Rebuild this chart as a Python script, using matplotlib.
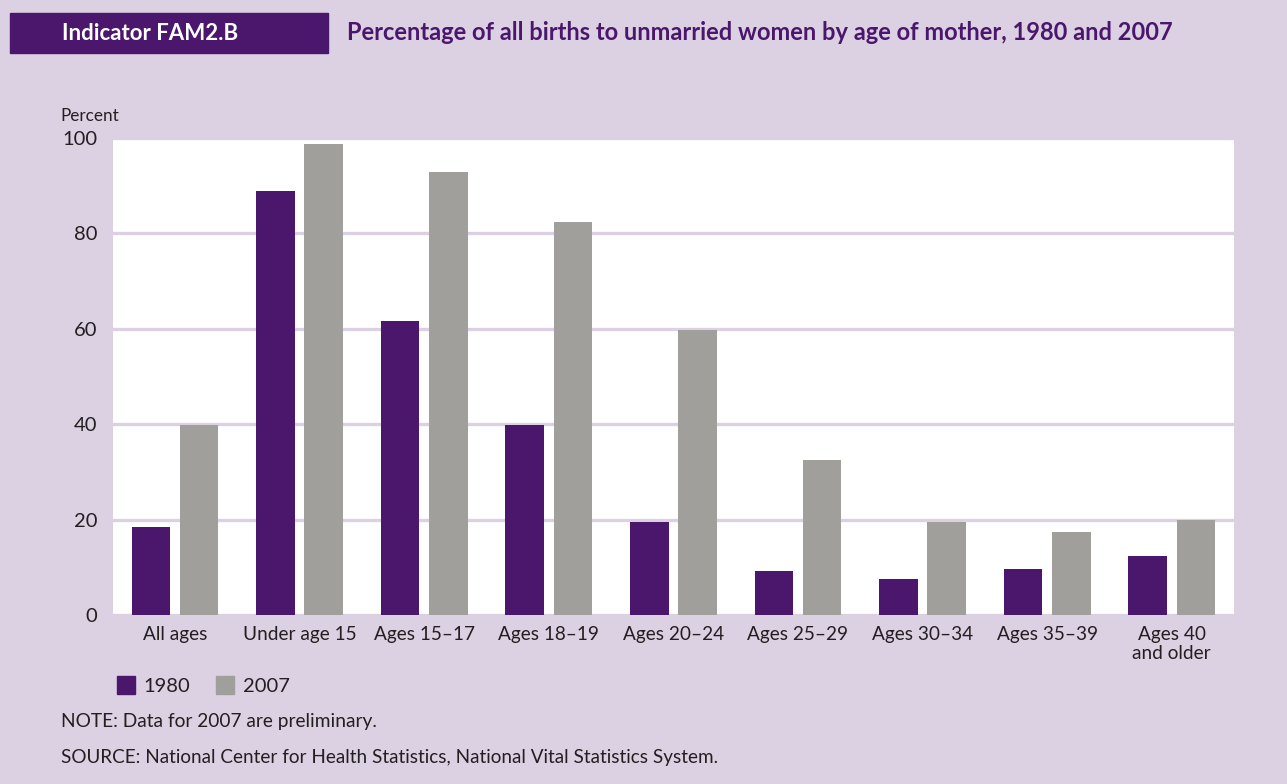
import matplotlib.pyplot as plt
import numpy as np
from matplotlib.patches import Rectangle

categories = ["All ages", "Under age 15", "Ages 15\u201317", "Ages 18\u201319",
              "Ages 20\u201324", "Ages 25\u201329", "Ages 30\u201334", "Ages 35\u201339",
              "Ages 40\nand older"]
vals_1980 = [18.5, 88.9, 61.6, 39.9, 19.4, 9.2, 7.5, 9.6, 12.3]
vals_2007 = [39.9, 98.7, 92.9, 82.3, 59.7, 32.4, 19.4, 17.3, 20.0]
yticks = [0, 20, 40, 60, 80, 100]

bg = "#dcd0e3"
purple = "#4a176c"
gray = "#a19f9b"
txt = "#231f20"
plt.rcParams['font.family'] = ['Lato', 'DejaVu Sans']

fig = plt.figure(figsize=(12.87, 7.84), dpi=100)
fig.patch.set_facecolor(bg)

ax = fig.add_axes([0.0876, 0.2156, 0.8713, 0.6088])
x = np.arange(len(categories))
w = 0.31
ax.bar(x - 0.193, vals_1980, w, color=purple, zorder=3)
ax.bar(x + 0.193, vals_2007, w, color=gray, zorder=3)

ax.set_xlim(-0.5, len(categories) - 0.5)
ax.set_ylim(0, 100)
ax.set_yticks(yticks)
ax.set_yticklabels([str(t) for t in yticks], fontsize=14.5, color=txt)
ax.set_xticks(x)
ax.set_xticklabels(categories, fontsize=13.7, color=txt, linespacing=1.15)
ax.tick_params(length=0)
ax.tick_params(axis='y', pad=11)
ax.tick_params(axis='x', pad=8)
for s in ax.spines.values():
    s.set_visible(False)
ax.yaxis.grid(True, color=bg, linewidth=2.4, zorder=1)
ax.set_axisbelow(True)

# header
fig.patches.append(Rectangle((10 / 1287, 1 - 53 / 784), 318 / 1287, 40 / 784,
                             transform=fig.transFigure, color=purple, zorder=0))
fig.text(62 / 1287, 1 - 33 / 784, "Indicator FAM2.B", color="white",
         fontsize=16, fontweight="bold", va="center")
fig.text(347 / 1287, 1 - 33 / 784,
         "Percentage of all births to unmarried women by age of mother, 1980 and 2007",
         color=purple, fontsize=17, fontweight="bold", va="center")

fig.text(60 / 1287, 1 - 116 / 784, "Percent", fontsize=12.3, color=txt, va="center")

# legend
fig.patches.append(Rectangle((117 / 1287, 1 - 694 / 784), 18 / 1287, 18 / 784,
                             transform=fig.transFigure, color=purple))
fig.text(143 / 1287, 1 - 686 / 784, "1980", fontsize=14.5, color=txt, va="center")
fig.patches.append(Rectangle((216 / 1287, 1 - 694 / 784), 18 / 1287, 18 / 784,
                             transform=fig.transFigure, color=gray))
fig.text(243 / 1287, 1 - 686 / 784, "2007", fontsize=14.5, color=txt, va="center")

fig.text(61 / 1287, 1 - 721 / 784, "NOTE: Data for 2007 are preliminary.",
         fontsize=13.8, color=txt, va="center")
fig.text(61 / 1287, 1 - 758 / 784,
         "SOURCE: National Center for Health Statistics, National Vital Statistics System.",
         fontsize=13.6, color=txt, va="center")

fig.savefig("out.png", dpi=100, facecolor=bg)
